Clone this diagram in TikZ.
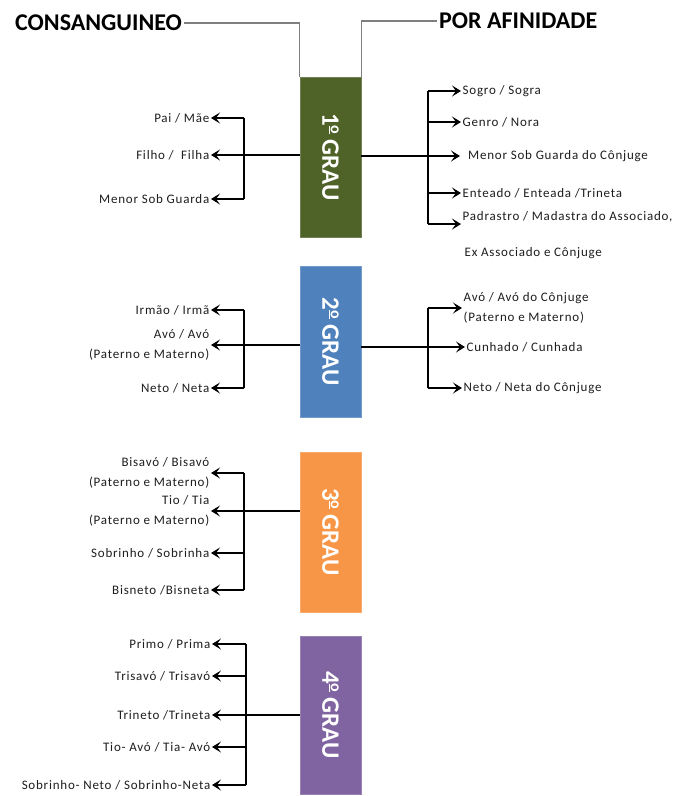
\documentclass[tikz,border=0pt]{standalone}
\usepackage{fontspec}
\setmainfont{Carlito}
\newfontfamily\labelfont[LetterSpace=6]{Carlito}
\usetikzlibrary{arrows.meta}

\definecolor{grauA}{HTML}{4F6228}
\definecolor{grauB}{HTML}{4F81BD}
\definecolor{grauC}{HTML}{F79646}
\definecolor{grauD}{HTML}{8064A2}
\definecolor{guide}{HTML}{7F7F7F}
\definecolor{ink}{HTML}{1E1E1E}

% ordinal indicator drawn as a raised, underlined small o
\newcommand{\ordmark}{\raisebox{0.7ex}{\fontsize{16}{16}\selectfont\underline{o}}}

\tikzset{
  x=1pt, y=-1pt,
  grau/.style={fill=#1, draw=#1!80!white, line width=0.8pt,
    minimum width=61pt, inner sep=0pt},
  grautext/.style={rotate=-90, text=white,
    font=\fontsize{25}{27}\selectfont\bfseries},
  head/.style={text=black, inner sep=2pt,
    font=\fontsize{24}{26}\selectfont\bfseries},
  guideline/.style={draw=guide, line width=1.3pt},
  kin/.style={text=ink, inner sep=1.5pt,
    font=\labelfont\fontsize{13}{20}\selectfont},
  kinL/.style={kin, anchor=east, align=right},
  kinR/.style={kin, anchor=west, align=left},
  link/.style={draw=black, line width=1.8pt},
  arr/.style={link, -{Stealth[length=9pt,width=11pt,inset=4pt]}},
}

\begin{document}
\begin{tikzpicture}
\useasboundingbox (0,0) rectangle (681,796);
\fill[white] (0,0) rectangle (681,796);

% the four degree columns
\node[grau=grauA, minimum height=160pt] (g1) at (330.5,157) {};
\node[grautext] (g1t) at (g1.center) {1\ordmark\ GRAU};
\node[grau=grauB, minimum height=151pt] (g2) at (330.5,341.5) {};
\node[grautext] (g2t) at (g2.center) {2\ordmark\ GRAU};
\node[grau=grauC, minimum height=160pt] (g3) at (330.5,532) {};
\node[grautext] (g3t) at (g3.center) {3\ordmark\ GRAU};
\node[grau=grauD, minimum height=158pt] (g4) at (330.5,715) {};
\node[grautext] (g4t) at (g4.center) {4\ordmark\ GRAU};

% headings with their guide lines
\node[head, anchor=west] (cons) at (13,23) {CONSANGUINEO};
\node[head, anchor=west] (afin) at (437,21) {POR AFINIDADE};
\draw[guideline] (cons.east) -| (g1.north west);
\draw[guideline] (g1.north east) |- (afin.west);

% ---- 1º grau
\node[kinL] (l1a) at (211,118) {Pai / Mãe};
\node[kinL] (l1b) at (211,155) {Filho / \ Filha};
\node[kinL] (l1c) at (211,199) {Menor Sob Guarda};
\coordinate (bl1) at (244,0);
\draw[arr] (g1.west |- l1b.east) -- (l1b.east);
\draw[link] (l1a.east -| bl1) -- (l1c.east -| bl1);
\draw[arr] (l1a.east -| bl1) -- (l1a.east);
\draw[arr] (l1c.east -| bl1) -- (l1c.east);

\node[kinR] (r1a) at (461,91) {Sogro / Sogra};
\node[kinR] (r1b) at (461,122) {Genro / Nora};
\node[kinR, inner xsep=8pt] (r1c) at (460,156) {Menor Sob Guarda do Cônjuge};
\node[kinR] (r1d) at (461,193) {Enteado / Enteada /Trineta};
\node[kinR] (r1e) at (461,217) {Padrastro / Madastra do Associado,};
\node[kinR] (r1f) at (463,253) {Ex Associado e Cônjuge};
\coordinate (br1) at (428,0);
\draw[arr] (g1.east |- r1c.west) -- (r1c.west);
\draw[link] (r1a.west -| br1) -- (r1e.south west -| br1);
\draw[arr] (r1a.west -| br1) -- (r1a.west);
\draw[arr] (r1b.west -| br1) -- (r1b.west);
\draw[arr] (r1d.west -| br1) -- (r1d.west);
\draw[arr] (r1e.south west -| br1) -- (r1e.south west);

% ---- 2º grau
\node[kinL] (l2a) at (211,310) {Irmão / Irmã};
\node[kinL] (l2b) at (211,345) {Avó / Avó\\(Paterno e Materno)};
\node[kinL] (l2c) at (211,388) {Neto / Neta};
\coordinate (bl2) at (244,0);
\draw[arr] (g2.west |- l2b.east) -- (l2b.east);
\draw[link] (l2a.east -| bl2) -- (l2c.east -| bl2);
\draw[arr] (l2a.east -| bl2) -- (l2a.east);
\draw[arr] (l2c.east -| bl2) -- (l2c.east);

\node[kinR] (r2a) at (462,308) {Avó / Avó do Cônjuge\\(Paterno e Materno)};
\node[kinR] (r2b) at (465,347) {Cunhado / Cunhada};
\node[kinR] (r2c) at (462,388) {Neto / Neta do Cônjuge};
\coordinate (br2) at (428,0);
\draw[arr] (g2.east |- r2b.west) -- (r2b.west);
\draw[link] (r2a.west -| br2) -- (r2c.west -| br2);
\draw[arr] (r2a.west -| br2) -- (r2a.west);
\draw[arr] (r2c.west -| br2) -- (r2c.west);

% ---- 3º grau
\node[kinL] (l3a) at (211,473) {Bisavó / Bisavó\\(Paterno e Materno)};
\node[kinL] (l3b) at (211,511) {Tio / Tia\\(Paterno e Materno)};
\node[kinL] (l3c) at (211,553) {Sobrinho / Sobrinha};
\node[kinL] (l3d) at (211,590) {Bisneto /Bisneta};
\coordinate (bl3) at (244,0);
\draw[arr] (g3.west |- l3b.east) -- (l3b.east);
\draw[link] (l3a.east -| bl3) -- (l3d.east -| bl3);
\draw[arr] (l3a.east -| bl3) -- (l3a.east);
\draw[arr] (l3c.east -| bl3) -- (l3c.east);
\draw[arr] (l3d.east -| bl3) -- (l3d.east);

% ---- 4º grau
\node[kinL] (l4a) at (212,644) {Primo / Prima};
\node[kinL] (l4b) at (212,676) {Trisavó / Trisavó};
\node[kinL] (l4c) at (212,715) {Trineto /Trineta};
\node[kinL] (l4d) at (212,747) {Tio- Avó / Tia- Avó};
\node[kinL] (l4e) at (212,785) {Sobrinho- Neto / Sobrinho-Neta};
\coordinate (bl4) at (246,0);
\draw[arr] (g4.west |- l4c.east) -- (l4c.east);
\draw[link] (l4a.east -| bl4) -- (l4e.east -| bl4);
\draw[arr] (l4a.east -| bl4) -- (l4a.east);
\draw[arr] (l4b.east -| bl4) -- (l4b.east);
\draw[arr] (l4d.east -| bl4) -- (l4d.east);
\draw[arr] (l4e.east -| bl4) -- (l4e.east);
\end{tikzpicture}
\end{document}
